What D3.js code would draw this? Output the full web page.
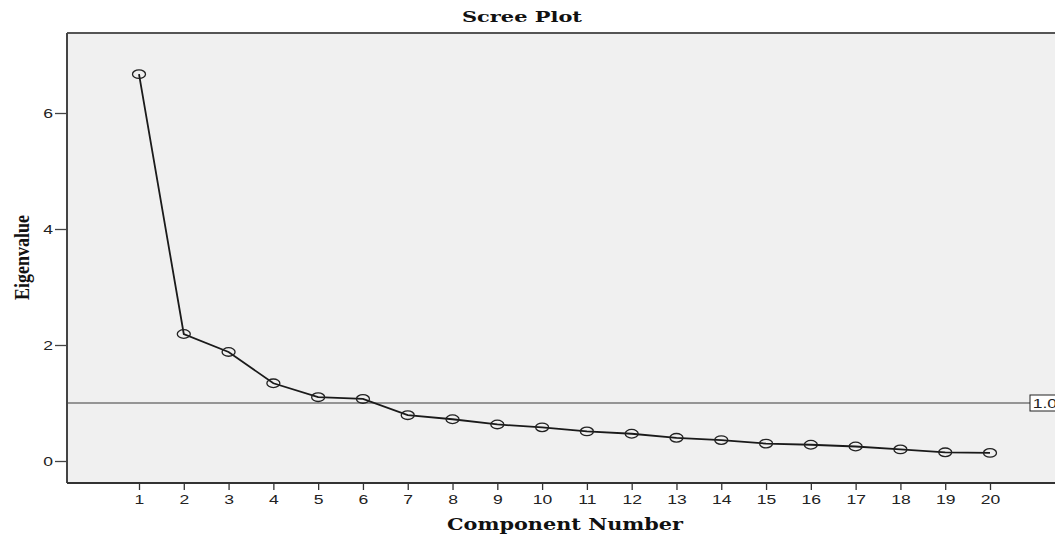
<!DOCTYPE html>
<html>
<head>
<meta charset="utf-8">
<script src="https://cdn.jsdelivr.net/npm/d3@7"></script>
<style>
  html, body { margin: 0; padding: 0; background: #fff; overflow: hidden; }
  svg { display: block; }
</style>
</head>
<body>
<svg id="chart" width="1055" height="535"></svg>
<script>
const components = [1,2,3,4,5,6,7,8,9,10,11,12,13,14,15,16,17,18,19,20];
const eigenvalues = [6.67,2.19,1.88,1.34,1.10,1.07,0.79,0.72,0.63,0.58,0.51,0.47,0.40,0.36,0.30,0.28,0.25,0.20,0.15,0.14];
const yTicks = [0,2,4,6];
const refValue = 1.0;
const refLabel = "1.0";
const title = "Scree Plot";
const xTitle = "Component Number";
const yTitle = "Eigenvalue";

(function () {
const svg = d3.select("#chart");
const pLeft = 67, pTop = 33, pBottom = 483, pRight = 1075;
const stretch = 1.35;

const x = d3.scaleLinear().domain([1, 20]).range([139, 990]);
const y = d3.scaleLinear().domain([0, 6]).range([461, 113]);

// plot background
svg.append("rect").attr("x", pLeft).attr("y", pTop)
  .attr("width", pRight - pLeft).attr("height", pBottom - pTop)
  .attr("fill", "#f0f0f0");

// top frame line
svg.append("line").attr("x1", pLeft).attr("x2", pRight).attr("y1", pTop).attr("y2", pTop)
  .attr("stroke", "#555").attr("stroke-width", 2);

// reference line
svg.append("line").attr("x1", pLeft).attr("x2", pRight)
  .attr("y1", y(refValue)).attr("y2", y(refValue))
  .attr("stroke", "#777").attr("stroke-width", 1.6);

// ref label box
const lg = svg.append("g").attr("transform", `translate(1030,${y(refValue)})`);
lg.append("rect").attr("x", 0).attr("y", -8).attr("width", 40).attr("height", 16)
  .attr("fill", "#fff").attr("stroke", "#222").attr("stroke-width", 1);
lg.append("text").attr("x", 2).attr("y", 5).text(refLabel)
  .attr("transform", `scale(${stretch},1)`)
  .attr("font-family", "Liberation Sans, Arial, sans-serif").attr("font-size", 13).attr("fill", "#222");

// axes
const yAxis = d3.axisLeft(y).tickValues(yTicks).tickSize(12).tickPadding(4).tickFormat(d3.format("d"));
const gy = svg.append("g").attr("transform", `translate(${pLeft},0)`).call(yAxis);
gy.select(".domain").remove();
gy.append("line").attr("x1", 0).attr("x2", 0).attr("y1", pTop).attr("y2", pBottom)
  .attr("stroke", "#444").attr("stroke-width", 2);
gy.selectAll(".tick line").attr("stroke", "#444").attr("stroke-width", 1.3);
gy.selectAll(".tick text").attr("font-family", "Liberation Sans, Arial, sans-serif")
  .attr("font-size", 13).attr("fill", "#222")
  .attr("x", -14 / stretch).attr("transform", `scale(${stretch},1)`);

const xAxis = d3.axisBottom(x).tickValues(components).tickSize(7).tickPadding(5).tickFormat(d3.format("d"));
const gx = svg.append("g").attr("transform", `translate(0,${pBottom})`).call(xAxis);
gx.select(".domain").remove();
gx.append("line").attr("x1", pLeft).attr("x2", pRight).attr("y1", 0).attr("y2", 0)
  .attr("stroke", "#333").attr("stroke-width", 2);
gx.selectAll(".tick line").attr("stroke", "#333").attr("stroke-width", 1.3);
gx.selectAll(".tick text").attr("font-family", "Liberation Sans, Arial, sans-serif")
  .attr("font-size", 13).attr("fill", "#222")
  .attr("transform", `scale(${stretch},1)`);

// line
const line = d3.line().x((d, i) => x(components[i])).y(d => y(d));
svg.append("path").datum(eigenvalues).attr("d", line)
  .attr("fill", "none").attr("stroke", "#1a1a1a").attr("stroke-width", 1.8);

// markers
svg.selectAll("ellipse.pt").data(eigenvalues).enter().append("ellipse")
  .attr("class", "pt")
  .attr("cx", (d, i) => x(components[i])).attr("cy", d => y(d))
  .attr("rx", 6.5).attr("ry", 4.3)
  .attr("fill", "none").attr("stroke", "#222").attr("stroke-width", 1.3);

// titles
svg.append("text").attr("x", 462).attr("y", 22)
  .attr("textLength", 120).attr("lengthAdjust", "spacingAndGlyphs")
  .attr("font-family", "DejaVu Serif, serif").attr("font-weight", "bold").attr("font-size", 15)
  .attr("fill", "#111").text(title);

svg.append("text").attr("x", 447).attr("y", 530)
  .attr("textLength", 236).attr("lengthAdjust", "spacingAndGlyphs")
  .attr("font-family", "DejaVu Serif, serif").attr("font-weight", "bold").attr("font-size", 17)
  .attr("fill", "#111").text(xTitle);

svg.append("text").attr("transform", `translate(29,300) rotate(-90)`)
  .attr("textLength", 85).attr("lengthAdjust", "spacingAndGlyphs")
  .attr("font-family", "Liberation Serif, serif").attr("font-weight", "bold").attr("font-size", 20)
  .attr("fill", "#111").text(yTitle);
})();
</script>
</body>
</html>
